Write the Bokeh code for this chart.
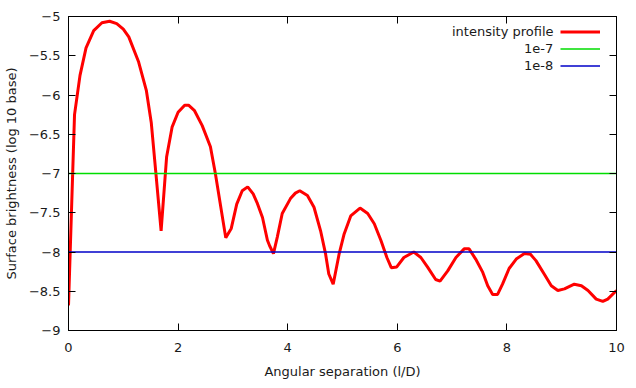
from bokeh.plotting import figure
from bokeh.models import (Range1d, LinearAxis, FixedTicker, CustomJSTickFormatter,
                          Legend, LegendItem)
from bokeh.embed import file_html
from bokeh.resources import INLINE

# ---- data ----
sep = [0.0, 0.11, 0.21, 0.32, 0.46, 0.61, 0.75, 0.88, 1.00, 1.10, 1.28, 1.42, 1.51,
       1.59, 1.69, 1.79, 1.89, 2.00, 2.12, 2.19, 2.30, 2.44, 2.59, 2.68, 2.87, 2.97,
       3.07, 3.17, 3.27, 3.37, 3.44, 3.54, 3.63, 3.67, 3.74, 3.81, 3.90, 4.05, 4.14,
       4.22, 4.36, 4.48, 4.60, 4.69, 4.75, 4.83, 4.94, 5.03, 5.15, 5.32, 5.46, 5.58,
       5.70, 5.81, 5.89, 5.99, 6.12, 6.30, 6.43, 6.55, 6.70, 6.78, 6.92, 7.07, 7.22,
       7.31, 7.43, 7.56, 7.65, 7.74, 7.83, 7.92, 8.04, 8.17, 8.32, 8.43, 8.53, 8.68,
       8.81, 8.93, 9.05, 9.23, 9.36, 9.48, 9.63, 9.75, 9.84, 10.0]
brightness = [-8.68, -6.25, -5.75, -5.40, -5.18, -5.08, -5.06, -5.09, -5.16, -5.26,
              -5.58, -5.94, -6.35, -6.96, -7.73, -6.79, -6.41, -6.22, -6.13, -6.13,
              -6.20, -6.39, -6.66, -7.00, -7.82, -7.70, -7.39, -7.22, -7.17, -7.26,
              -7.37, -7.56, -7.85, -7.92, -8.02, -7.81, -7.51, -7.32, -7.25, -7.22,
              -7.28, -7.43, -7.73, -8.02, -8.28, -8.41, -8.02, -7.77, -7.54, -7.44,
              -7.51, -7.64, -7.85, -8.07, -8.20, -8.19, -8.07, -8.00, -8.07, -8.19,
              -8.35, -8.37, -8.24, -8.07, -7.96, -7.96, -8.09, -8.26, -8.43, -8.54,
              -8.54, -8.41, -8.21, -8.09, -8.02, -8.03, -8.11, -8.28, -8.43, -8.49,
              -8.47, -8.41, -8.43, -8.49, -8.60, -8.63, -8.60, -8.49]
series_label = "intensity profile"
level_labels = ["1e-7", "1e-8"]
level_values = [-7.0, -8.0]
x_ticks = [0, 2, 4, 6, 8, 10]
y_ticks = [-9, -8.5, -8, -7.5, -7, -6.5, -6, -5.5, -5]

FONT = "DejaVu Sans"
FS = "13px"

p = figure(width=636, height=388, output_backend="svg", toolbar_location=None,
           x_range=Range1d(0, 10), y_range=Range1d(-9, -5),
           min_border_left=68, min_border_right=20, min_border_top=16, min_border_bottom=58)
p.xgrid.visible = False
p.ygrid.visible = False
p.outline_line_color = "black"
p.outline_line_width = 1
p.background_fill_color = "white"
p.border_fill_color = "white"

def style(ax, ticks):
    ax.ticker = FixedTicker(ticks=ticks)
    ax.minor_tick_line_color = None
    ax.major_tick_in = 7
    ax.major_tick_out = 0
    ax.major_tick_line_color = "black"
    ax.axis_line_color = "black"
    ax.major_label_text_font = FONT
    ax.major_label_text_font_size = FS
    ax.major_label_text_color = "#1a1a1a"
    ax.axis_label_text_font = FONT
    ax.axis_label_text_font_size = FS
    ax.axis_label_text_font_style = "normal"
    ax.axis_label_text_color = "#1a1a1a"

xa = p.xaxis[0]
style(xa, x_ticks)
xa.axis_label = "Angular separation (l/D)"
xa.major_label_standoff = 12
xa.axis_label_standoff = 9

ya = p.yaxis[0]
style(ya, y_ticks)
ya.axis_label = "Surface brightness (log 10 base)"
ya.major_label_standoff = 8
ya.axis_label_standoff = 7

blank = "return ''"
top = LinearAxis()
style(top, x_ticks)
top.formatter = CustomJSTickFormatter(code=blank)
top.major_label_standoff = 0
p.add_layout(top, "above")
right = LinearAxis()
style(right, y_ticks)
right.formatter = CustomJSTickFormatter(code=blank)
right.major_label_standoff = 0
p.add_layout(right, "right")

r_main = p.line(sep, brightness, line_color="#ff0000", line_width=3)
level_colors = ["#00dd00", "#0000c8"]
r_levels = []
for lv, col in zip(level_values, level_colors):
    r = p.line([0, 10], [lv, lv], line_color=col, line_width=1.3)
    r_levels.append(r)

all_labels = [series_label] + level_labels
all_renderers = [r_main] + r_levels

common = dict(padding=0, margin=0, spacing=0, glyph_height=17, label_height=17,
              label_text_font=FONT, label_text_font_size=FS, label_text_color="#1a1a1a",
              border_line_color=None, background_fill_alpha=0)

# legend samples (gnuplot style: sample to the right of the right-aligned text)
glyph_leg = Legend(items=[LegendItem(label=" ", renderers=[r]) for r in all_renderers],
                   location=(492, 256), glyph_width=40, label_standoff=0, **common)
p.add_layout(glyph_leg, "center")

# right-aligned legend texts, ending 7px left of the samples
text_widths = [101, 29, 29]
for i, (lab, r, w) in enumerate(zip(all_labels, all_renderers, text_widths)):
    tl = Legend(items=[LegendItem(label=lab, renderers=[r])],
                location=(485 - w, 256 + 17 * (2 - i)), glyph_width=0,
                label_standoff=0, **common)
    p.add_layout(tl, "center")

open("out.html", "w").write(file_html(p, INLINE))
